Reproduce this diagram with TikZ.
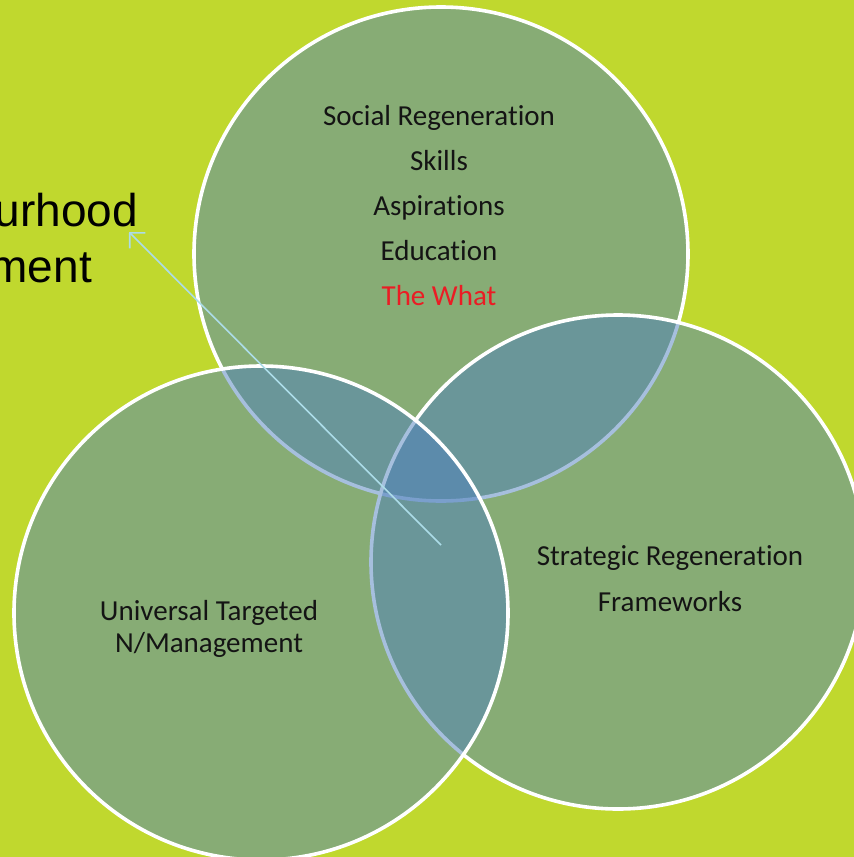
\documentclass[tikz,border=0pt]{standalone}
\usepackage{fontspec}
\setmainfont{Carlito}[Ligatures={NoCommon}]
\newfontfamily\arialfont{Liberation Sans}
\usetikzlibrary{arrows.meta}
\definecolor{bgc}{RGB}{192,216,46}
\definecolor{venn}{RGB}{79,129,189}
\definecolor{arrowc}{RGB}{172,220,232}
\definecolor{txt}{RGB}{20,20,20}
\definecolor{redtxt}{RGB}{235,28,36}
\tikzset{
  venncircle/.style={circle, draw=white, line width=3.6pt, fill=venn, fill opacity=0.5, minimum size=494pt, inner sep=0pt, outer sep=0pt},
  label/.style={font=\fontsize{29}{35}\selectfont, text=txt, inner sep=0pt, align=center},
  bigtext/.style={font=\arialfont\fontsize{46}{55}\selectfont, text=black, inner sep=0pt, anchor=base east}
}
\begin{document}
\begin{tikzpicture}[x=1pt,y=-1pt]
\fill[bgc] (0,0) rectangle (854,857);
\useasboundingbox (0,0) rectangle (854,857);
\node[bigtext] (t1) at (138,226) {urhood};
\node[bigtext] (t2) at (92,282) {ment};
\node[venncircle] (top) at (441,254) {};
\node[venncircle] (right) at (618,562) {};
\node[venncircle] (left) at (261,613) {};
\coordinate (astart) at (441,545);
\coordinate (aend) at (129,232);
\draw[arrowc, line width=1.6pt, -{Straight Barb[length=11pt,width=22pt,line width=1.6pt]}] (astart) -- (aend);
\node[label] (l1) at (439,118) {Social Regeneration};
\node[label] (l2) at (439,161) {Skills};
\node[label] (l3) at (439,208) {Aspirations};
\node[label] (l4) at (439,251) {Education};
\node[label, text=redtxt] (l5) at (439,296) {The What};
\node[label] (l6) at (209,613) {Universal Targeted};
\node[label] (l7) at (209,645) {N/Management};
\node[label] (l8) at (670,558) {Strategic Regeneration};
\node[label] (l9) at (670,602) {Frameworks};
\end{tikzpicture}
\end{document}
